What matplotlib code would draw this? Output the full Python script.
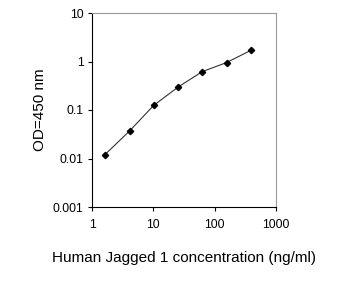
import matplotlib
matplotlib.use("Agg")
import matplotlib.pyplot as plt
from matplotlib.ticker import FixedLocator, FixedFormatter, NullLocator

conc = [1.6, 4.1, 10.1, 25.6, 63, 156, 390]
od = [0.0118, 0.037, 0.124, 0.30, 0.62, 0.95, 1.70]
xticks = [1, 10, 100, 1000]
xlabels = ["1", "10", "100", "1000"]
yticks = [0.001, 0.01, 0.1, 1, 10]
ylabels = ["0.001", "0.01", "0.1", "1", "10"]

plt.rcParams['font.family'] = ['Liberation Sans', 'DejaVu Sans']

fig = plt.figure(figsize=(3.47, 2.95), dpi=100)
ax = fig.add_axes([92/347, 1 - 207/295, (276-92)/347, (207-13)/295])
ax.plot(conc, od, color='#333333', lw=0.8, marker='D', ms=3.2,
        mfc='black', mec='black')
ax.set_xscale('log')
ax.set_yscale('log')
ax.set_xlim(1, 1000)
ax.set_ylim(0.001, 10)
ax.xaxis.set_major_locator(FixedLocator(xticks))
ax.xaxis.set_major_formatter(FixedFormatter(xlabels))
ax.yaxis.set_major_locator(FixedLocator(yticks))
ax.yaxis.set_major_formatter(FixedFormatter(ylabels))
ax.xaxis.set_minor_locator(NullLocator())
ax.yaxis.set_minor_locator(NullLocator())
ax.tick_params(axis='both', labelsize=8.8, length=3, width=0.8, color='black')
ax.tick_params(axis='x', pad=6)
ax.tick_params(axis='y', pad=3)
for s in ['top', 'right']:
    ax.spines[s].set_color('#999999')
    ax.spines[s].set_linewidth(0.8)
for s in ['left', 'bottom']:
    ax.spines[s].set_color('black')
    ax.spines[s].set_linewidth(0.8)
ax.set_xlabel("Human Jagged 1 concentration (ng/ml)", fontsize=11, labelpad=14)
ax.set_ylabel("OD=450 nm", fontsize=11, labelpad=4)
fig.savefig("out.png", dpi=100)
